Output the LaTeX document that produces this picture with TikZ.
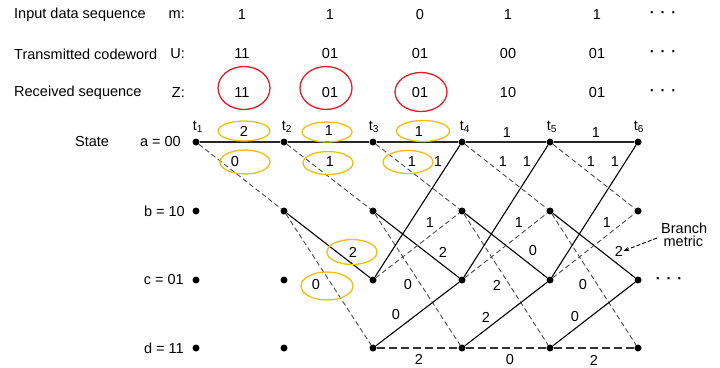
\documentclass[tikz,border=0pt]{standalone}
\usepackage{fontspec}
\setmainfont{Liberation Sans}
\usetikzlibrary{shapes.geometric,arrows.meta}
\definecolor{ringred}{RGB}{232,28,36}
\definecolor{ringyel}{RGB}{242,190,20}
\begin{document}
\begin{tikzpicture}[x=1pt,y=-1pt,
  every node/.style={font=\fontsize{14.5}{16}\selectfont, inner sep=0pt},
  dot/.style={circle,fill=black,minimum size=7pt,inner sep=0pt},
  zero/.style={line width=1.1pt},
  azero/.style={line width=1.7pt, black!85},
  one/.style={line width=0.9pt, dash pattern=on 5pt off 3pt, black!70},
  oned/.style={line width=1.2pt, dash pattern=on 8pt off 4pt, black!80},
  redring/.style={ellipse, draw=ringred, line width=1.3pt, inner sep=0pt},
  yelring/.style={ellipse, draw=ringyel, line width=1.3pt, inner sep=0pt},
  lab/.style={anchor=center},
  cdots/.style={font=\fontsize{14.5}{16}\selectfont\bfseries},
]
\useasboundingbox (0,0) rectangle (720,367);

% header rows
\node[anchor=west] (h1) at (14,15) {Input data sequence};
\node[anchor=east] (h1m) at (185,15) {m:};
\node[anchor=west] (h2) at (14,54) {Transmitted codeword};
\node[anchor=east] (h2u) at (185,54) {U:};
\node[anchor=west] (h3) at (14,93) {Received sequence};
\node[anchor=east] (h3z) at (185,93) {Z:};

\foreach \x/\m/\u/\z [count=\k] in {242/1/11/11, 330/1/01/01, 420/0/01/01, 508/1/00/10, 597/1/01/01}{
  \node (m\k) at (\x,15) {\m};
  \node (u\k) at (\x,54) {\u};
  \node (z\k) at (\x,93) {\z};
}
\node[cdots] (md) at (663,15) {·\hspace{6pt}·\hspace{6pt}·};
\node[cdots] (ud) at (663,54) {·\hspace{6pt}·\hspace{6pt}·};
\node[cdots] (zd) at (663,93) {·\hspace{6pt}·\hspace{6pt}·};

% red rings
\node[redring, minimum width=52pt, minimum height=43pt] (r1) at (244,88) {};
\node[redring, minimum width=52pt, minimum height=43pt] (r2) at (326,88) {};
\node[redring, minimum width=52pt, minimum height=39pt] (r3) at (421,92) {};

% state labels
\node[anchor=west] (st) at (75,142) {State};
\node[anchor=east] (sa) at (181,142) {a = 00};
\node[anchor=east] (sb) at (185,211) {b = 10};
\node[anchor=east] (sc) at (184,280) {c = 01};
\node[anchor=east] (sd) at (184,348) {d = 11};

% trellis nodes
\foreach \c/\x in {1/196,2/284,3/373,4/462,5/550,6/638}
  \foreach \r/\y in {a/142,b/211,c/280,d/348}
    \node[dot] (\r\c) at (\x,\y) {};

% time labels
\foreach \c/\x in {1/198,2/287,3/374,4/465,5/552,6/639}
  \node (t\c) at (\x,127) {t\textsubscript{\c}};

% branches
\foreach \i/\j in {1/2,2/3,3/4,4/5,5/6}{
  \draw[azero] (a\i) -- (a\j);
  \draw[one] (a\i) -- (b\j);
}
\foreach \i/\j in {2/3,3/4,4/5,5/6}{
  \draw[zero] (b\i) -- (c\j);
  \draw[one] (b\i) -- (d\j);
}
\foreach \i/\j in {3/4,4/5,5/6}{
  \draw[zero] (c\i) -- (a\j);
  \draw[one] (c\i) -- (b\j);
  \draw[zero] (d\i) -- (c\j);
  \draw[oned] (d\i) -- (d\j);
}

% yellow rings
\node[yelring, minimum width=52pt, minimum height=20pt] (y1) at (244,131) {};
\node[yelring, minimum width=50pt, minimum height=24pt] (y2) at (245,162) {};
\node[yelring, minimum width=50pt, minimum height=20pt] (y3) at (327,132) {};
\node[yelring, minimum width=50pt, minimum height=23pt] (y4) at (328,163) {};
\node[yelring, minimum width=53pt, minimum height=21pt] (y5) at (423,131) {};
\node[yelring, minimum width=50pt, minimum height=23pt] (y6) at (408,162) {};
\node[yelring, minimum width=50pt, minimum height=25pt] (y7) at (352,252) {};
\node[yelring, minimum width=52pt, minimum height=28pt] (y8) at (327,286) {};

% branch metrics
\foreach \x/\y/\t [count=\k] in {
  244/131/2, 329/131/1, 419/132/1, 507/133/1, 596/133/1,
  235/162/0, 330/162/1, 412/162/1, 438/162/1, 503/162/1, 527/162/1, 591/162/1, 615/162/1,
  430/223/1, 519/223/1, 607/223/1,
  353/252/2, 443/252/2, 533/251/0,
  316/285/0, 408/285/0, 497/285/2, 583/285/0,
  396/315/0, 486/317/2, 575/317/0,
  419/359/2, 510/360/0, 594/360/2}
  \node[lab] (l\k) at (\x,\y) {\t};
\node[lab] (bmtwo) at (619,251) {2};

% branch metric note
\node[align=left, anchor=west] (bm) at (661,235) {Branch\\[-3pt]\,metric};
\coordinate (bmstart) at (657,238);
\draw[line width=0.9pt, dash pattern=on 4pt off 2pt, -{Stealth[length=6pt,width=4pt]}] (bmstart) -- (bmtwo.east);

\node[cdots] (cd) at (669,281) {·\hspace{6pt}·\hspace{6pt}·};
\end{tikzpicture}
\end{document}
